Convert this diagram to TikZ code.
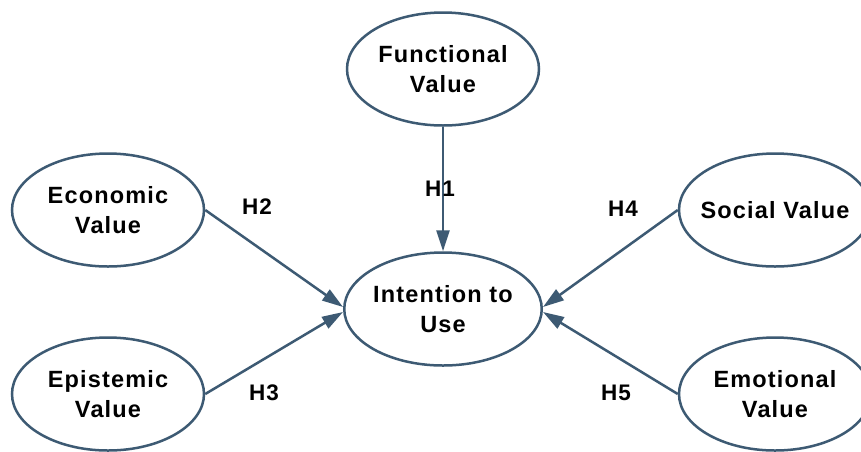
\documentclass[tikz,border=0pt]{standalone}
\usepackage{fontspec}
\setmainfont{Liberation Sans}[LetterSpace=5]
\usetikzlibrary{shapes.geometric,arrows.meta,calc}
\definecolor{edge}{HTML}{3D5A73}
\tikzset{
  construct/.style={ellipse, draw=edge, line width=2.5pt, minimum width=192pt, minimum height=113pt, inner sep=0pt, align=center, font=\fontsize{23.5}{30}\selectfont\bfseries},
  path/.style={draw=edge, line width=2.5pt, -{Triangle[length=21pt,width=13pt]}},
  hyp/.style={font=\fontsize{22.5}{26}\selectfont\bfseries, inner sep=0pt}
}
\begin{document}
\begin{tikzpicture}[x=1pt,y=-1pt]
\useasboundingbox (0,0) rectangle (861,451);
\fill[white] (0,0) rectangle (861,451);
\clip (0,0) rectangle (861,451);
\node[construct] (fun) at (443,69) {Functional\\Value};
\node[construct] (eco) at (108,210) {Economic\\Value};
\node[construct] (int) at (443,309) {Intention to\\Use};
\node[construct] (soc) at (775,210) {\makebox[0pt]{Social Value}};
\node[construct] (epi) at (108,394) {Epistemic\\Value};
\node[construct] (emo) at (775,394) {Emotional\\Value};
\draw[path] (fun.south) -- (int.north);
\draw[path] (eco.east) -- ($(int.west)+(0,-2)$);
\draw[path] (epi.east) -- ($(int.west)+(0,3)$);
\draw[path] (soc.west) -- ($(int.east)+(0,-2)$);
\draw[path] (emo.west) -- ($(int.east)+(0,3)$);
\node[hyp] (h1) at (440,189) {H1};
\node[hyp] (h2) at (257,207) {H2};
\node[hyp] (h3) at (264,393) {H3};
\node[hyp] (h4) at (623,209) {H4};
\node[hyp] (h5) at (616,393) {H5};
\end{tikzpicture}
\end{document}
